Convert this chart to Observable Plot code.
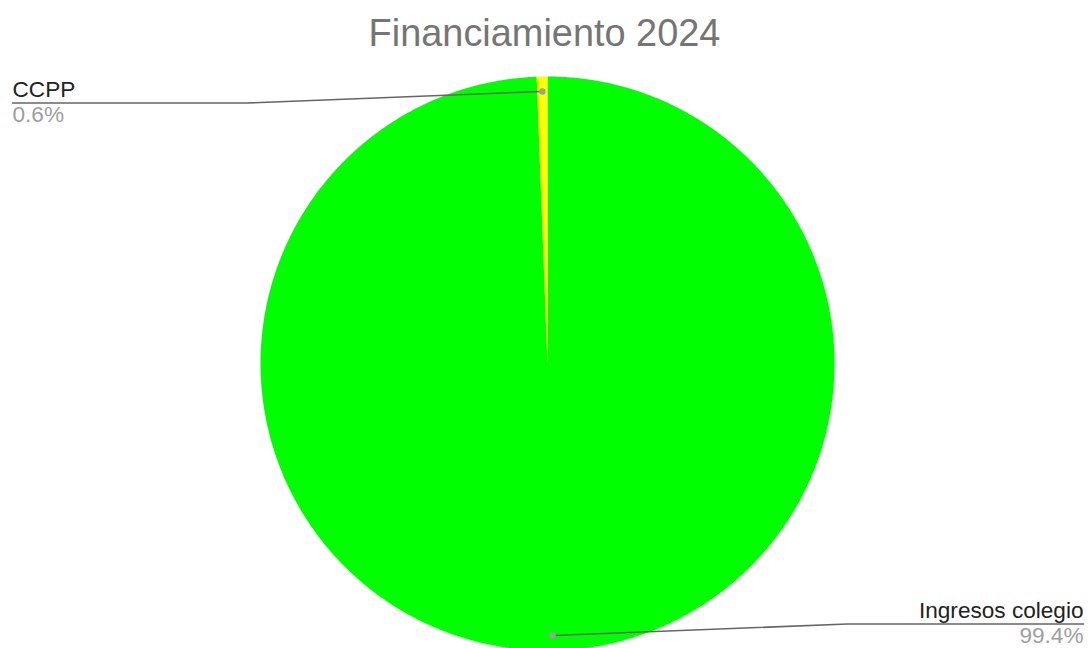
<!DOCTYPE html>
<html>
<head>
<meta charset="utf-8">
<script src="https://cdn.jsdelivr.net/npm/d3@7"></script>
<script src="https://cdn.jsdelivr.net/npm/@observablehq/plot@0.6"></script>
<style>
  html, body { margin: 0; padding: 0; background: #fff; }
  #title { font-family: "Liberation Sans", Arial, sans-serif; font-size: 37.9px; color: #757575; text-align: center; height: 50px; line-height: 50px; margin-top: 8px; box-sizing: border-box; }
  #chart svg { display: block; }
</style>
</head>
<body>
<div id="title">Financiamiento 2024</div>
<div id="chart"></div>
<script>
// ---- data ----
const categories = ["Ingresos colegio", "CCPP"];
const values = [99.4, 0.6];
const colors = ["#00ff00", "#ffff00"];
const percentLabels = ["99.4%", "0.6%"];

// ---- layout constants ----
const W = 1089, H = 590;
const CX = 547, CY = 305;   // pie centre inside svg (pixels)
const R = 287;
const DOT_R = 0.948;        // dot at fraction of radius
const ELBOW_DX = 295;       // horizontal distance dot -> elbow
const LABEL_DY = 11.5;      // vertical offset dot -> label line
const LEFT_X = 12 - CX, RIGHT_X = 1083 - CX;
const FS = 22.6;

const total = d3.sum(values);
// slices clockwise from 12 o'clock, in data order
let acc = 0;
const slices = categories.map((c, i) => {
  const a0 = acc / total * 2 * Math.PI;
  acc += values[i];
  const a1 = acc / total * 2 * Math.PI;
  return {cat: c, a0, a1, mid: (a0 + a1) / 2, color: colors[i], pct: percentLabels[i]};
});

// polygon points (y up)
const polys = [];
slices.forEach(s => {
  const n = Math.max(4, Math.ceil((s.a1 - s.a0) / (Math.PI / 360)));
  polys.push({cat: s.cat, x: 0, y: 0, color: s.color});
  for (let k = 0; k <= n; k++) {
    const a = s.a0 + (s.a1 - s.a0) * k / n;
    polys.push({cat: s.cat, x: R * Math.sin(a), y: R * Math.cos(a), color: s.color});
  }
});

// leader lines and labels
const leaders = [], dots = [], labels = [];
slices.forEach(s => {
  const dx = R * DOT_R * Math.sin(s.mid), dy = R * DOT_R * Math.cos(s.mid);
  const left = Math.sin(s.mid) < 0;
  const ly = dy + (dy > 0 ? -LABEL_DY : LABEL_DY);
  const ex = left ? dx - ELBOW_DX : dx + ELBOW_DX;
  const endX = left ? LEFT_X : RIGHT_X;
  leaders.push({cat: s.cat, x: dx, y: dy}, {cat: s.cat, x: ex, y: ly}, {cat: s.cat, x: endX, y: ly});
  dots.push({x: dx, y: dy});
  labels.push({x: endX, y: ly, name: s.cat, pct: s.pct, anchor: left ? "start" : "end"});
});

const xs = {type: "linear", domain: [-CX, W - CX], range: [0, W], axis: null};
const ys = {type: "linear", domain: [CY, CY - H], range: [0, H], axis: null};

const plot = Plot.plot({
  width: W, height: H,
  margin: 0,
  x: xs, y: ys,
  color: {type: "identity"},
  style: {fontFamily: "Liberation Sans, Arial, sans-serif", background: "#fff"},
  marks: [
    Plot.line(polys, {x: "x", y: "y", z: "cat", fill: "color", stroke: "none", curve: "linear-closed"}),
    Plot.line(leaders, {x: "x", y: "y", z: "cat", stroke: "#666666", strokeWidth: 1.6}),
    Plot.dot(dots, {x: "x", y: "y", r: 3.2, fill: "#9e9e9e", stroke: "none"}),
    Plot.text(labels.filter(d => d.anchor === "start"), {x: "x", y: "y", text: "name", textAnchor: "start", lineAnchor: "bottom", dy: -6, fontSize: FS, fill: "#222"}),
    Plot.text(labels.filter(d => d.anchor === "end"), {x: "x", y: "y", text: "name", textAnchor: "end", lineAnchor: "bottom", dy: -6, fontSize: FS, fill: "#222"}),
    Plot.text(labels.filter(d => d.anchor === "start"), {x: "x", y: "y", text: "pct", textAnchor: "start", lineAnchor: "top", dy: 3, fontSize: FS, fill: "#9e9e9e"}),
    Plot.text(labels.filter(d => d.anchor === "end"), {x: "x", y: "y", text: "pct", textAnchor: "end", lineAnchor: "top", dy: 3, fontSize: FS, fill: "#9e9e9e"})
  ]
});
document.getElementById("chart").appendChild(plot);
</script>
</body>
</html>
